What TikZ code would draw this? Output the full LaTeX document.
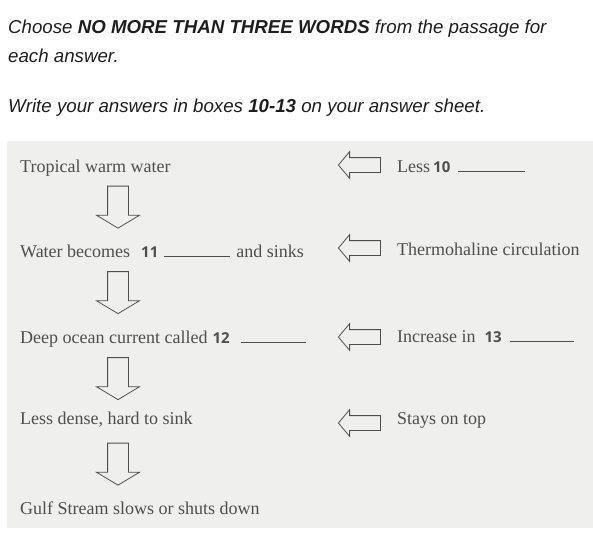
\documentclass[tikz,border=0pt]{standalone}
\usepackage{fontspec}
\setmainfont{Liberation Serif}
\newfontfamily\headfont{Liberation Sans}
\newfontfamily\numfont{Open Sans}
\usetikzlibrary{shapes.arrows,positioning}
\definecolor{scanbg}{RGB}{239,239,237}
\definecolor{ink}{RGB}{78,78,78}
\definecolor{head}{RGB}{30,30,30}
\tikzstyle{question} = [anchor=base west, inner sep=0pt, text=head, font=\headfont\itshape\fontsize{18.7}{22}\selectfont]
\tikzstyle{stage} = [anchor=base west, inner sep=0pt, text=ink, font=\fontsize{18}{21}\selectfont]
\tikzstyle{blockarrow} = [single arrow, draw=ink, line width=0.8pt, inner xsep=0pt]
\newcommand{\qnum}[1]{{\numfont\bfseries\fontsize{15}{17}\selectfont #1}}
\newcommand{\answerline}[1]{\rule{#1}{0.6pt}}

\begin{document}
\begin{tikzpicture}[x=1pt, y=-1pt]

        \tikzstyle{downarrow} = [blockarrow, rotate=-90, minimum height=42pt, inner ysep=10pt, single arrow head extend=11pt, single arrow tip angle=118]
        \tikzstyle{leftarrow} = [blockarrow, rotate=180, minimum height=42pt, inner ysep=7pt, single arrow head extend=6pt, single arrow tip angle=100]

        \useasboundingbox (0,0) rectangle (593,542);
        \fill[scanbg] (7,141) rectangle (593,528);

        % instructions
        \node[question] (choose) at (8,33) {Choose \textbf{NO MORE THAN THREE WORDS} from the passage for};
        \node[question] (each) at (8,62) {each answer.};
        \node[question] (write) at (8,112) {Write your answers in boxes \textbf{10-13} on your answer sheet.};

        % left column
        \node[stage] (tropical) at (20,172) {Tropical warm water};
        \node[stage] (becomes) at (20,257) {Water becomes\hspace{11pt}\qnum{11}\hspace{6pt}\answerline{66pt}\hspace{6pt}and sinks};
        \node[stage] (deep) at (20,343) {Deep ocean current called\hspace{5pt}\qnum{12}\hspace{11pt}\answerline{65pt}};
        \node[stage] (dense) at (20,424) {Less dense, hard to sink};
        \node[stage] (gulf) at (20,514) {Gulf Stream slows or shuts down};

        % right column
        \node[stage] (less) at (397,172) {Less\hspace{3pt}\qnum{10}\hspace{8pt}\answerline{67pt}};
        \node[stage] (thermo) at (397,255) {Thermohaline circulation};
        \node[stage] (increase) at (397,342) {Increase in\hspace{9pt}\qnum{13}\hspace{8pt}\answerline{64pt}};
        \node[stage] (stays) at (397,424) {Stays on top};

        \foreach \y [count=\i] in {204,289.5,375.5,461}
            \node[downarrow] (down\i) at (118,\y) {};
        \foreach \y [count=\i] in {165,248,337,423}
            \node[leftarrow] (left\i) at (362.5,\y) {};

\end{tikzpicture}
\end{document}
